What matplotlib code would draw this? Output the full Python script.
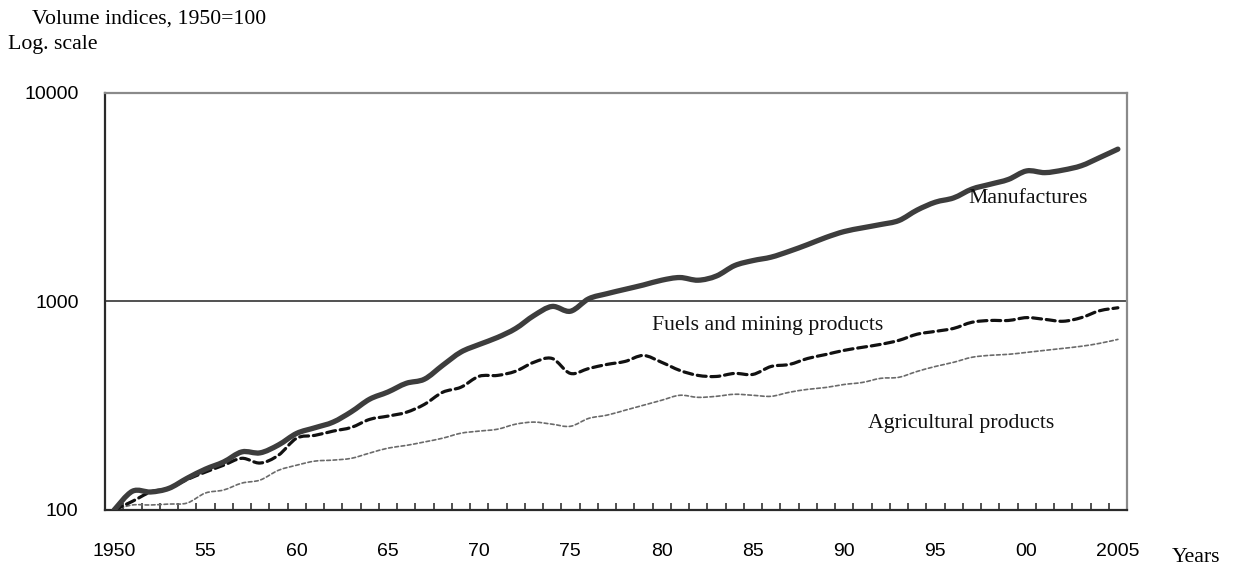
import numpy as np
import matplotlib
matplotlib.use("Agg")
import matplotlib.pyplot as plt
from matplotlib.path import Path
from matplotlib.patches import PathPatch

# Volume indices of world merchandise exports, 1950 = 100
years = list(range(1950, 2006))

manufactures = [
    100, 123, 122, 127, 142, 157, 170, 190, 188, 205,
    233, 248, 264, 296, 340, 368, 405, 424, 494, 572,
    622, 672, 742, 856, 947, 898, 1030, 1090, 1144, 1200,
    1265, 1303, 1265, 1325, 1487, 1571, 1632, 1742, 1875, 2028,
    2165, 2255, 2340, 2445, 2745, 2995, 3140, 3460, 3650, 3850,
    4230, 4150, 4270, 4480, 4900, 5380,
]

fuels_mining = [
    100, 110, 122, 127, 140, 152, 164, 177, 168, 183,
    221, 228, 239, 249, 272, 282, 294, 321, 367, 388,
    438, 442, 463, 511, 533, 452, 477, 499, 516, 551,
    511, 467, 442, 437, 452, 447, 488, 499, 533, 557,
    583, 603, 623, 651, 697, 719, 743, 795, 811, 811,
    837, 821, 804, 837, 903, 933,
]

agricultural = [
    100, 105.7, 105.7, 106.8, 108, 120.6, 124.7, 134.6, 139.2, 155,
    164, 171.6, 173.5, 177, 187.5, 198, 204, 212, 221, 233.5,
    239, 244, 258, 264, 258, 252, 275, 285, 301, 318,
    336, 355, 347, 351, 359, 355, 351, 367, 379, 387,
    400, 409, 428, 433, 462, 488, 511, 540, 552, 558,
    570, 583, 596, 610, 630, 658,
]

x_label_years = [1950, 1955, 1960, 1965, 1970, 1975, 1980, 1985, 1990, 1995, 2000, 2005]
x_labels = ["1950", "55", "60", "65", "70", "75", "80", "85", "90", "95", "00", "2005"]
y_ticks = [100, 1000, 10000]
y_labels = ["100", "1000", "10000"]

SERIF = "Liberation Serif"
SANS = "Liberation Sans"
SERIF_SIZE = 15.7


def smooth_path(xs, ys):
    """Catmull-Rom curve through the points, built in (x, log10 y) space."""
    x = np.asarray(xs, dtype=float)
    ly = np.log10(np.asarray(ys, dtype=float))
    n = len(x)
    verts = [(x[0], ly[0])]
    codes = [Path.MOVETO]
    for i in range(n - 1):
        a = i - 1 if i > 0 else i
        d = i + 2 if i + 2 < n else i + 1
        c1 = (x[i] + (x[i + 1] - x[a]) / 6.0, ly[i] + (ly[i + 1] - ly[a]) / 6.0)
        c2 = (x[i + 1] - (x[d] - x[i]) / 6.0, ly[i + 1] - (ly[d] - ly[i]) / 6.0)
        verts += [c1, c2, (x[i + 1], ly[i + 1])]
        codes += [Path.CURVE4] * 3
    verts = np.array(verts)
    verts[:, 1] = 10 ** verts[:, 1]
    return Path(verts, codes)


fig = plt.figure(figsize=(12.39, 5.67), dpi=100)
W, H = 1239, 567
ax = fig.add_axes([105 / W, (H - 510) / H, (1127 - 105) / W, (510 - 93) / H])

ax.set_yscale("log")
ax.set_xlim(1949.5, 2005.5)
ax.set_ylim(100, 10000)

# horizontal rule at 1000
ax.axhline(1000, color="#222222", lw=1.1, zorder=1)

series = [
    (agricultural, dict(edgecolor="#6a6a6a", lw=1.2, linestyle=(0, (2.2, 1.6)))),
    (fuels_mining, dict(edgecolor="#111111", lw=2.3, linestyle=(0, (2.8, 1.5)))),
    (manufactures, dict(edgecolor="#3d3d3d", lw=3.8, linestyle="-")),
]
for values, style in series:
    patch = PathPatch(smooth_path(years, values), facecolor="none",
                      transform=ax.transData, capstyle="round",
                      joinstyle="round", zorder=3, **style)
    ax.add_patch(patch)

# y axis
ax.set_yticks(y_ticks)
ax.set_yticklabels(y_labels, fontfamily=SANS, fontsize=14)
ax.yaxis.set_minor_locator(matplotlib.ticker.NullLocator())
ax.tick_params(axis="y", which="major", length=0, pad=19)

# x axis: labels at categories, tick marks between categories
ax.set_xticks(x_label_years)
ax.set_xticklabels(x_labels, fontfamily=SANS, fontsize=14)
ax.set_xticks([y + 0.5 for y in years[:-1]], minor=True)
ax.tick_params(axis="x", which="major", length=0, pad=24)
ax.tick_params(axis="x", which="minor", direction="in", length=5,
               width=1.1, color="#222222")

for side in ("left", "bottom"):
    ax.spines[side].set_color("#2a2a2a")
    ax.spines[side].set_linewidth(1.6)
for side in ("top", "right"):
    ax.spines[side].set_color("#8a8a8a")
    ax.spines[side].set_linewidth(1.6)

# series labels
ax.text(1996.8, 3135, "Manufactures", fontfamily=SERIF, fontsize=SERIF_SIZE,
        ha="left", va="center", color="#111111")
ax.text(1979.5, 771, "Fuels and mining products", fontfamily=SERIF,
        fontsize=SERIF_SIZE, ha="left", va="center", color="#111111")
ax.text(1991.3, 261, "Agricultural products", fontfamily=SERIF,
        fontsize=SERIF_SIZE, ha="left", va="center", color="#111111")

# headings and axis title
fig.text(32 / W, 1 - 19 / H, "Volume indices, 1950=100", fontfamily=SERIF,
         fontsize=SERIF_SIZE, ha="left", va="center")
fig.text(8 / W, 1 - 44 / H, "Log. scale", fontfamily=SERIF,
         fontsize=SERIF_SIZE, ha="left", va="center")
fig.text(1172 / W, 1 - 558 / H, "Years", fontfamily=SERIF,
         fontsize=SERIF_SIZE, ha="left", va="center")

fig.savefig("out.png", dpi=100, facecolor="white")
